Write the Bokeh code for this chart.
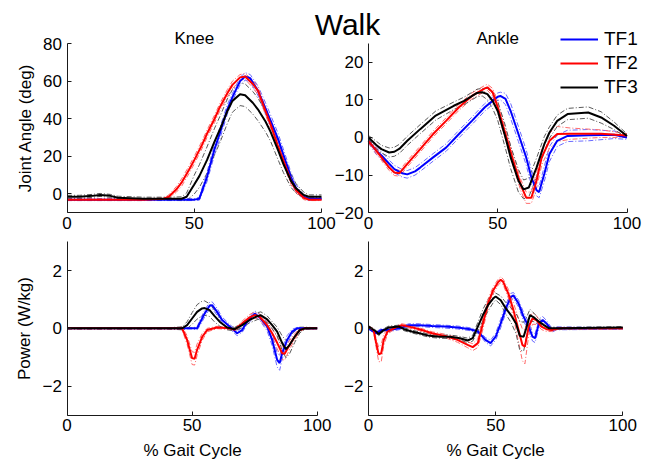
from bokeh.plotting import figure
from bokeh.models import Range1d, Legend, LegendItem, Label, LinearAxis
from bokeh.layouts import column
from bokeh.embed import file_html
from bokeh.resources import INLINE

FONT = "Liberation Sans"

# ---------------- data ----------------
# Knee angle (deg)
knee_x_tf1 = [0, 10, 20, 30, 40, 50, 52, 55, 58, 60, 63, 65, 68, 70, 72, 75, 78, 80, 83, 85, 88, 90, 93, 95, 100]
knee_tf1 = [-3, -3, -3, -3, -3, -3, -2.5, 9, 24, 32, 45, 51.5, 60, 62.5, 61.5, 55, 45.5, 39, 29, 21, 9, 3, -1.5, -2.5, -2.5]
knee_sd_tf1 = [0.5, 0.5, 0.5, 0.5, 0.5, 0.5, 0.8, 2.5, 3, 3, 2.5, 2, 2, 2, 2, 2.5, 3, 3, 3, 3, 2.5, 2, 1, 0.8, 0.5]

knee_x_tf2 = [0, 10, 20, 30, 38, 40, 43, 45, 48, 50, 53, 55, 58, 60, 63, 65, 68, 70, 73, 75, 78, 80, 83, 85, 88, 90, 93, 95, 100]
knee_tf2 = [-3, -3, -3, -3, -2.5, -1.5, 2.5, 6, 13, 18, 26, 32, 40, 46, 53.5, 58, 62, 62.5, 58.5, 55, 44, 37, 25, 18, 7, 2, -2, -3, -3]
knee_sd_tf2 = [0.5, 0.5, 0.5, 0.5, 0.5, 1, 1.5, 2, 2, 2, 2, 2, 2, 2, 2, 2, 1.5, 1.5, 2, 2, 2, 2, 2, 2, 2, 1.5, 1, 0.5, 0.5]

knee_x_tf3 = [0, 5, 10, 13, 17, 20, 30, 40, 45, 47, 50, 52, 55, 58, 60, 63, 65, 68, 70, 73, 75, 78, 80, 83, 85, 88, 90, 93, 95, 100]
knee_tf3 = [-1.5, -1.5, -1, -0.5, -1, -2, -2.5, -2.5, -2.5, -1.5, 5, 9.5, 18, 28, 34, 44, 49.5, 53, 52.5, 48.5, 45, 38.5, 33, 23, 16, 7, 3, -0.5, -1.5, -1.5]
knee_sd_tf3 = [0.8, 0.8, 0.8, 0.8, 0.8, 0.8, 0.8, 0.8, 1, 2, 5, 6, 7, 7, 7, 6.5, 6, 6, 6, 6, 6, 5.5, 5, 5, 4.5, 3.5, 2.5, 1.5, 1, 1]

# Ankle angle (deg)
ankle_x_tf1 = [0, 3, 5, 8, 10, 13, 15, 18, 20, 25, 30, 35, 40, 45, 48, 50, 51, 53, 55, 58, 61, 63, 65, 66, 68, 70, 73, 77, 85, 95, 100]
ankle_tf1 = [-1, -3.5, -4.8, -7, -8.4, -9.5, -9.8, -9, -8, -5.3, -2.7, 0.9, 4.4, 8, 9.7, 10.8, 11, 10.2, 7, 0.9, -5.3, -10.6, -14, -14.5, -9.7, -4.4, -0.9, 0.4, 0.6, 0.7, 0]
ankle_sd_tf1 = [0.5, 1, 1, 1, 1, 1, 1, 1, 1, 1, 1, 1, 1, 1, 1, 1, 1, 1.5, 2, 2, 2, 2, 1.5, 1.5, 2, 2, 1.5, 1.5, 1.5, 1, 0.5]

ankle_x_tf2 = [0, 3, 5, 8, 10, 12, 15, 20, 25, 30, 35, 40, 45, 46, 48, 50, 53, 56, 59, 61, 63, 65, 67, 70, 73, 78, 90, 100]
ankle_tf2 = [-1, -3.5, -5.3, -8, -9.3, -9.5, -7, -3.1, 0.9, 4.4, 8, 11, 13, 13.3, 12, 8, 0.9, -6.2, -12.8, -16, -16, -11.5, -5.3, -0.9, 0.9, 1, 1, 0.5]
ankle_sd_tf2 = [0.5, 0.8, 0.8, 0.8, 0.8, 0.8, 0.8, 0.8, 0.8, 0.8, 0.8, 0.8, 0.8, 0.8, 1, 1.5, 1.5, 1.5, 1.5, 1.5, 1.5, 2, 2, 2, 2, 1.5, 1, 0.5]

ankle_x_tf3 = [0, 3, 5, 8, 10, 12, 15, 20, 26, 33, 37, 42, 44, 46, 48, 50, 53, 55, 58, 60, 62, 65, 68, 70, 73, 77, 85, 90, 95, 100]
ankle_tf3 = [0, -2, -3.1, -4, -3.8, -3, -0.9, 2.2, 5.8, 8.4, 9.7, 11.8, 12, 11.5, 9.7, 7, 0, -5.3, -11.5, -13.8, -13.3, -8, -1.8, 1.3, 4.4, 6.2, 6.6, 5.3, 3.1, 0.4]
ankle_sd_tf3 = [0.5, 1, 1, 1.2, 1.2, 1.2, 1.2, 1.2, 1.2, 1, 1, 1, 1, 1.5, 2, 2.5, 3, 3, 3, 2.5, 2.5, 2.5, 2, 1.5, 1.5, 1.5, 1.5, 1.5, 1, 0.5]

# Knee power (W/kg)
kp_x_tf1 = [0, 10, 20, 30, 40, 50, 52, 53, 55, 57, 58, 60, 62, 65, 68, 70, 72, 75, 77, 80, 82, 84, 85, 86, 88, 90, 92, 100]
kp_tf1 = [0, 0, 0, 0, 0, 0, 0, 0.17, 0.51, 0.78, 0.8, 0.57, 0.29, 0.06, -0.17, -0.06, 0.23, 0.51, 0.38, 0.06, -0.4, -1.09, -1.2, -0.86, -0.4, -0.11, 0, 0]
kp_sd_tf1 = [0.02, 0.02, 0.02, 0.02, 0.02, 0.02, 0.05, 0.1, 0.12, 0.12, 0.12, 0.12, 0.1, 0.08, 0.08, 0.08, 0.1, 0.1, 0.1, 0.15, 0.2, 0.25, 0.25, 0.2, 0.15, 0.08, 0.03, 0.02]

kp_x_tf2 = [0, 10, 20, 30, 40, 45, 46, 48, 50, 51, 52, 54, 56, 60, 65, 67, 70, 73, 75, 77, 80, 82, 84, 86, 87, 89, 91, 93, 95, 100]
kp_tf2 = [0, 0, 0, 0, 0, 0, 0, -0.4, -1.03, -1.05, -0.74, -0.3, -0.06, 0.03, 0, -0.05, 0.17, 0.38, 0.46, 0.4, 0.11, -0.17, -0.5, -0.86, -0.88, -0.57, -0.29, -0.06, 0, 0]
kp_sd_tf2 = [0.02, 0.02, 0.02, 0.02, 0.02, 0.03, 0.05, 0.15, 0.22, 0.22, 0.2, 0.12, 0.06, 0.04, 0.04, 0.05, 0.08, 0.1, 0.1, 0.1, 0.12, 0.15, 0.2, 0.22, 0.22, 0.15, 0.1, 0.05, 0.02, 0.02]

kp_x_tf3 = [0, 10, 20, 30, 40, 46, 48, 50, 52, 54, 55, 57, 59, 61, 64, 67, 70, 73, 76, 77.5, 80, 82, 84, 86, 87.5, 89, 91, 93, 95, 100]
kp_tf3 = [0, 0, 0, 0, 0, 0, 0.11, 0.34, 0.57, 0.69, 0.7, 0.63, 0.42, 0.23, 0.03, -0.03, 0.11, 0.29, 0.42, 0.45, 0.31, 0.11, -0.11, -0.51, -0.72, -0.57, -0.29, -0.06, 0, 0]
kp_sd_tf3 = [0.02, 0.02, 0.02, 0.02, 0.02, 0.05, 0.12, 0.2, 0.25, 0.25, 0.25, 0.22, 0.2, 0.15, 0.08, 0.06, 0.08, 0.1, 0.12, 0.12, 0.12, 0.12, 0.15, 0.25, 0.3, 0.3, 0.2, 0.1, 0.04, 0.02]

# Ankle power (W/kg)
ap_x_tf1 = [0, 3, 5, 8, 12, 16, 20, 25, 30, 35, 40, 43, 46, 48, 50, 52, 54, 56, 57, 59, 61, 63, 64.5, 65.5, 67, 68.5, 70, 72, 74, 100]
ap_tf1 = [0, -0.17, -0.06, -0.06, 0, 0.11, 0.11, 0.08, 0.06, 0.03, -0.03, -0.11, -0.4, -0.51, -0.29, 0.17, 0.69, 1.09, 1.14, 0.86, 0.4, 0.06, -0.29, -0.34, 0.17, 0.29, 0.17, -0.06, 0, 0]
ap_sd_tf1 = [0.03, 0.05, 0.05, 0.05, 0.05, 0.05, 0.05, 0.05, 0.05, 0.05, 0.05, 0.06, 0.08, 0.1, 0.12, 0.15, 0.15, 0.12, 0.1, 0.12, 0.15, 0.15, 0.15, 0.15, 0.15, 0.12, 0.1, 0.08, 0.05, 0.03]

ap_x_tf2 = [0, 2, 3, 4, 5, 6, 7.5, 10, 13, 16, 20, 25, 30, 35, 39, 41, 43, 45, 47, 49, 51, 52, 53, 55, 57, 59, 60.5, 61.5, 63, 64.5, 66, 68, 70, 72, 75, 100]
ap_tf2 = [0.05, -0.06, -0.5, -0.9, -0.86, -0.4, -0.11, 0, 0.11, 0.06, -0.03, -0.17, -0.26, -0.4, -0.57, -0.65, -0.51, 0.17, 0.86, 1.31, 1.6, 1.68, 1.6, 1.2, 0.63, -0.06, -0.57, -0.63, 0.06, 0.34, 0.29, 0.06, -0.03, -0.06, 0, 0]
ap_sd_tf2 = [0.03, 0.05, 0.15, 0.25, 0.3, 0.2, 0.08, 0.05, 0.05, 0.05, 0.05, 0.05, 0.06, 0.08, 0.1, 0.12, 0.15, 0.2, 0.15, 0.12, 0.1, 0.1, 0.1, 0.15, 0.25, 0.4, 0.55, 0.6, 0.3, 0.2, 0.15, 0.1, 0.08, 0.05, 0.03, 0.03]

ap_x_tf3 = [0, 3, 4, 6, 8, 12, 14, 17, 20, 24, 28, 32, 36, 39, 41, 43, 45, 47, 49, 50, 52, 54, 56, 58, 59.5, 61, 62, 63.5, 65, 67, 69, 71, 75, 100]
ap_tf3 = [0.06, -0.11, -0.2, -0.06, 0.03, 0.06, -0.03, -0.11, -0.17, -0.26, -0.29, -0.29, -0.34, -0.42, -0.34, 0.06, 0.46, 0.8, 1.03, 1.1, 0.97, 0.69, 0.46, 0.17, -0.26, -0.29, 0, 0.46, 0.38, 0.23, 0.11, 0, 0, 0.03]
ap_sd_tf3 = [0.03, 0.05, 0.05, 0.05, 0.05, 0.05, 0.05, 0.05, 0.05, 0.05, 0.05, 0.06, 0.06, 0.08, 0.1, 0.15, 0.2, 0.2, 0.15, 0.12, 0.15, 0.2, 0.25, 0.35, 0.5, 0.5, 0.35, 0.2, 0.15, 0.1, 0.08, 0.05, 0.03, 0.03]

x_ticks = [0, 50, 100]
knee_ticks = [0, 20, 40, 60, 80]
ankle_ticks = [-20, -10, 0, 10, 20]
power_ticks = [-2, 0, 2]
series_names = ["TF1", "TF2", "TF3"]

MEAN_COLORS = ["#0000ff", "#ff0000", "#000000"]
BAND_COLORS = ["#6b6bff", "#ff6b6b", "#5a5a5a"]

W = 656
TOP_H = 240
BOT_H = 222


def xr(p0, p1, v0, v1, total):
    s = (v1 - v0) / (p1 - p0)
    return Range1d(v0 - p0 * s, v0 + (total - p0) * s)


def yr(p_top, p_bot, v_top, v_bot, total):
    s = (v_bot - v_top) / (p_bot - p_top)
    return Range1d(v_top + (total - p_top) * s, v_top - p_top * s)


def style_axis(ax, ticks, bounds, label=None, standoff=4):
    ax.ticker = ticks
    ax.bounds = bounds
    ax.axis_line_color = "#1a1a1a"
    ax.axis_line_width = 1
    ax.major_tick_in = 4
    ax.major_tick_out = 0
    ax.minor_tick_line_color = None
    ax.major_tick_line_color = "#1a1a1a"
    ax.major_label_text_font = FONT
    ax.major_label_text_font_size = "17px"
    ax.major_label_text_color = "#000000"
    ax.major_label_standoff = standoff
    ax.axis_label_text_font = FONT
    ax.axis_label_text_font_size = "17px"
    ax.axis_label_text_font_style = "normal"
    ax.axis_label_text_color = "#000000"
    if label:
        ax.axis_label = label
        ax.axis_label_standoff = 6


def base_fig(h, x_range, y_range, ex_x, ex_y):
    p = figure(width=W, height=h, x_range=x_range, y_range=y_range,
               extra_x_ranges={"r": ex_x}, extra_y_ranges={"r": ex_y},
               output_backend="svg", toolbar_location=None, x_axis_type=None, y_axis_type=None,
               min_border_left=0, min_border_right=0, min_border_top=0, min_border_bottom=0)
    p.grid.visible = False
    p.outline_line_color = None
    return p


def draw(p, xs, ms, sds, rn="default"):
    rs = []
    for i in range(3):
        x, m, sd = xs[i], ms[i], sds[i]
        up = [a + b for a, b in zip(m, sd)]
        lo = [a - b for a, b in zip(m, sd)]
        for band in (up, lo):
            p.line(x, band, line_color=BAND_COLORS[i], line_width=1, line_dash="5 2 1 2",
                   x_range_name=rn, y_range_name=rn)
    for i in range(3):
        r = p.line(xs[i], ms[i], line_color=MEAN_COLORS[i], line_width=2,
                   x_range_name=rn, y_range_name=rn)
        rs.append(r)
    return rs


def add_axes(p, yticks, ybounds, ylabel, xlabel, rn="default"):
    ya = LinearAxis(x_range_name=rn, y_range_name=rn, fixed_location=0)
    style_axis(ya, yticks, ybounds, ylabel, standoff=5)
    p.add_layout(ya, "left")
    xa = LinearAxis(x_range_name=rn, y_range_name=rn, fixed_location=ybounds[0])
    style_axis(xa, x_ticks, (0, 100), xlabel, standoff=4)
    p.add_layout(xa, "below")


# ---------- top row: knee angle (default ranges) and ankle angle ("r" ranges) ----------
top = base_fig(TOP_H,
               xr(66.5, 321.0, 0, 100, W), yr(43.0, 212.3, 80, -10, TOP_H),
               xr(368.0, 626.5, 0, 100, W), yr(42.7, 212.3, 25, -20, TOP_H))
draw(top, [knee_x_tf1, knee_x_tf2, knee_x_tf3], [knee_tf1, knee_tf2, knee_tf3],
     [knee_sd_tf1, knee_sd_tf2, knee_sd_tf3])
rs = draw(top, [ankle_x_tf1, ankle_x_tf2, ankle_x_tf3], [ankle_tf1, ankle_tf2, ankle_tf3],
          [ankle_sd_tf1, ankle_sd_tf2, ankle_sd_tf3], rn="r")
add_axes(top, knee_ticks, (-10, 80), "Joint Angle (deg)", None)
add_axes(top, ankle_ticks, (-20, 25), None, None, rn="r")

top.add_layout(Label(x=50, y=83.72, y_offset=-2, text="Knee", text_align="center",
                     text_baseline="alphabetic", text_font=FONT, text_font_size="17px",
                     text_color="#000000"))
top.add_layout(Label(x=50, y=26.86, y_offset=-2, text="Ankle", text_align="center",
                     text_baseline="alphabetic", text_font=FONT, text_font_size="17px",
                     text_color="#000000", x_range_name="r", y_range_name="r"))
top.add_layout(Label(x=110.2, y=90.1, text="Walk", text_align="center",
                     text_baseline="alphabetic", text_font=FONT, text_font_size="30px",
                     text_color="#000000"))
leg = Legend(items=[LegendItem(label=n, renderers=[r]) for n, r in zip(series_names, rs)],
             location=(560, 141), orientation="vertical", padding=0, margin=0, spacing=0,
             glyph_width=38, glyph_height=24, label_height=24, label_standoff=6,
             label_text_font=FONT, label_text_font_size="19px", label_text_color="#000000",
             background_fill_alpha=0, border_line_color=None)
top.add_layout(leg)

# ---------- bottom row: knee power (default) and ankle power ("r") ----------
bot = base_fig(BOT_H,
               xr(66.5, 316.7, 0, 100, W), yr(30.0, 145.7, 2, -2, BOT_H),
               xr(368.0, 622.3, 0, 100, W), yr(30.0, 145.7, 2, -2, BOT_H))
draw(bot, [kp_x_tf1, kp_x_tf2, kp_x_tf3], [kp_tf1, kp_tf2, kp_tf3], [kp_sd_tf1, kp_sd_tf2, kp_sd_tf3])
draw(bot, [ap_x_tf1, ap_x_tf2, ap_x_tf3], [ap_tf1, ap_tf2, ap_tf3], [ap_sd_tf1, ap_sd_tf2, ap_sd_tf3], rn="r")
add_axes(bot, power_ticks, (-3, 3), "Power (W/kg)", "% Gait Cycle")
add_axes(bot, power_ticks, (-3, 3), None, "% Gait Cycle", rn="r")

layout = column(top, bot)

open("out.html", "w").write(file_html(layout, INLINE))
